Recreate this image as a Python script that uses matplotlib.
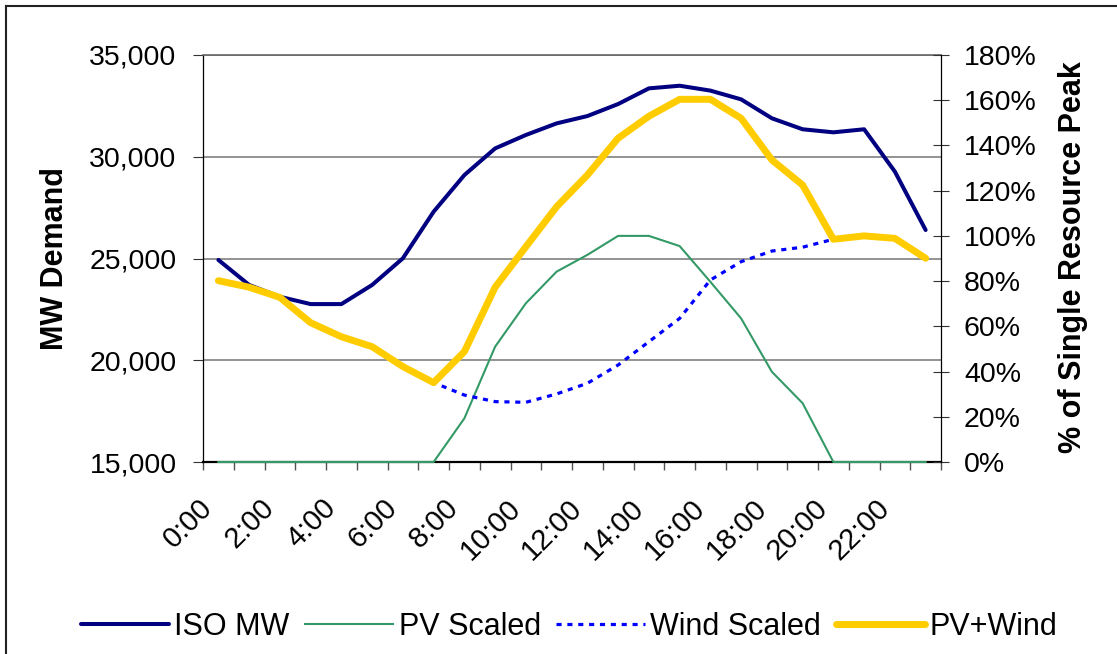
import numpy as np
import matplotlib
matplotlib.use("Agg")
import matplotlib.pyplot as plt
from matplotlib.ticker import FuncFormatter
from matplotlib.lines import Line2D
from matplotlib.transforms import ScaledTranslation

plt.rcParams['font.family'] = ['Liberation Sans', 'DejaVu Sans']

# Hourly categories (0:00 .. 23:00); only every second hour is labelled
hour_labels = ["0:00", "2:00", "4:00", "6:00", "8:00", "10:00",
               "12:00", "14:00", "16:00", "18:00", "20:00", "22:00"]

# System demand (MW), primary axis
iso_mw = [24930, 23700, 23120, 22760, 22760, 23700, 25010, 27300,
          29100, 30410, 31070, 31640, 32000, 32590, 33360, 33490,
          33250, 32820, 31890, 31350, 31200, 31350, 29270, 26400]

# Resource output as % of single-resource peak, secondary axis
pv_scaled = [0, 0, 0, 0, 0, 0, 0, 0,
             19.3, 51.0, 70.2, 84.2, 91.6, 100.0, 100.0, 95.5,
             79.7, 63.5, 39.9, 26.0, 0, 0, 0, 0]
wind_scaled = [80.2, 77.3, 72.8, 61.6, 55.4, 51.0, 42.2, 35.1,
               29.6, 26.7, 26.4, 30.1, 34.8, 42.9, 53.2, 63.5,
               80.5, 88.6, 93.3, 95.0, 98.5, 100.0, 98.9, 90.1]
pv_wind = [80.2, 77.3, 72.8, 61.6, 55.4, 51.0, 42.2, 35.1,
           48.8, 77.3, 95.2, 112.9, 126.9, 143.2, 152.9, 160.4,
           160.4, 152.0, 133.6, 122.5, 98.5, 100.0, 98.9, 90.1]

W, H = 1117, 654
fig = plt.figure(figsize=(W / 100, H / 100), dpi=100)
fig.patch.set_facecolor('white')

L, R, T, B = 203, 941, 55, 462
ax1 = fig.add_axes([L / W, 1 - B / H, (R - L) / W, (B - T) / H])
ax2 = ax1.twinx()

x = np.arange(len(iso_mw))

h_iso, = ax1.plot(x, iso_mw, color='#000080', lw=2.9, zorder=3,
                  solid_joinstyle='round', solid_capstyle='round',
                  clip_on=False, label='ISO MW')
h_pv, = ax2.plot(x, pv_scaled, color='#339966', lw=1.5, zorder=3,
                 clip_on=False, label='PV Scaled')
h_wind, = ax2.plot(x, wind_scaled, color='#0000FF', lw=2.3, zorder=3,
                   linestyle=(0, (1.6, 1.8)), clip_on=False,
                   label='Wind Scaled')
h_sum, = ax2.plot(x, pv_wind, color='#FFCC00', lw=5.0, zorder=4,
                  solid_joinstyle='round', solid_capstyle='round',
                  clip_on=False, label='PV+Wind')

# Axes limits and ticks
ax1.set_xlim(-0.5, len(iso_mw) - 0.5)
ax1.set_ylim(15000, 35000)
ax2.set_ylim(0, 180)

ax1.set_yticks(np.arange(15000, 35001, 5000))
ax1.yaxis.set_major_formatter(FuncFormatter(lambda v, p: f"{int(v):,}"))
ax2.set_yticks(np.arange(0, 181, 20))
ax2.yaxis.set_major_formatter(FuncFormatter(lambda v, p: f"{int(v)}%"))

ax1.set_xticks(np.arange(-0.5, len(iso_mw), 1))
ax1.set_xticklabels([])
ax1.set_xticks(np.arange(0, len(iso_mw), 2), minor=True)
ax1.set_xticklabels(hour_labels, minor=True, rotation=45,
                    ha='right', va='top', fontsize=21)
shift = ScaledTranslation(-7 / 100, 0, fig.dpi_scale_trans)
for lbl in ax1.get_xticklabels(minor=True):
    lbl.set_transform(lbl.get_transform() + shift)

ax1.tick_params(axis='x', which='major', direction='out', length=6,
                width=1.0, color='#555555')
ax1.tick_params(axis='x', which='minor', length=0, pad=23)
ax1.tick_params(axis='y', direction='out', length=7, width=0.8,
                color='#333333', labelsize=20.5, pad=12)
ax2.tick_params(axis='y', direction='inout', length=12, width=0.8,
                color='#333333', labelsize=20.5, pad=10.5)

ax1.grid(axis='y', color='#808080', lw=1.2)
ax1.set_axisbelow(True)

for s in ('top', 'left', 'bottom'):
    ax2.spines[s].set_visible(False)
ax1.spines['right'].set_visible(False)
ax1.spines['top'].set_color('#666666')
ax1.spines['top'].set_linewidth(1.2)
ax1.spines['left'].set_color('black')
ax1.spines['left'].set_linewidth(0.9)
ax1.spines['bottom'].set_color('black')
ax1.spines['bottom'].set_linewidth(1.6)
ax2.spines['right'].set_color('black')
ax2.spines['right'].set_linewidth(0.9)

# Axis titles
fig.text(55 / W, 1 - 259 / H, 'MW Demand', rotation=90, ha='center',
         va='center', fontsize=22, fontweight='bold')
fig.text(1073 / W, 1 - 257 / H, '% of Single Resource Peak', rotation=90,
         ha='center', va='center', fontsize=22, fontweight='bold')

# Legend below the plot
fig.legend(handles=[h_iso, h_pv, h_wind, h_sum], loc='center',
           bbox_to_anchor=(569 / W, 1 - 627 / H), ncol=4, frameon=False,
           fontsize=22, handlelength=2.9, handletextpad=0.17,
           columnspacing=0.5)

# Chart-area border (left and top edges)
fig.add_artist(Line2D([6 / W, 6 / W], [0, 1 - 6 / H],
                      transform=fig.transFigure, color='#222222', lw=1.5))
fig.add_artist(Line2D([6 / W, 1], [1 - 6 / H, 1 - 6 / H],
                      transform=fig.transFigure, color='#222222', lw=1.5))

fig.savefig('out.png', dpi=100)
